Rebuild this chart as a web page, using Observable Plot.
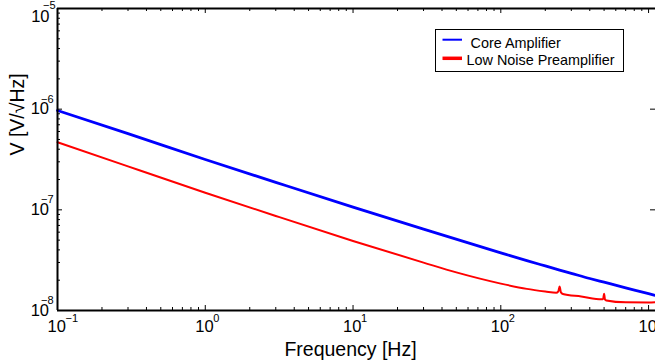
<!DOCTYPE html>
<html>
<head>
<meta charset="utf-8">
<script src="https://cdn.jsdelivr.net/npm/d3@7"></script>
<script src="https://cdn.jsdelivr.net/npm/@observablehq/plot@0.6"></script>
<style>
  html, body { margin: 0; padding: 0; background: #fff; overflow: hidden; }
  #wrap { position: relative; width: 655px; height: 362px; }
  #wrap svg { display: block; }
  #legend { position: absolute; left: 0; top: 0; }
</style>
</head>
<body>
<div id="wrap"></div>
<script>
// ---- data ----
const coreFreq = [0.1, 0.3, 1, 3, 10, 30, 100, 150, 200, 250, 300, 400, 500, 700, 1000, 1114];
const coreV    = [9.7e-7, 5.71e-7, 3.16e-7, 1.875e-7, 1.064e-7, 6.43e-8, 3.74e-8, 3.13e-8, 2.77e-8, 2.52e-8, 2.34e-8, 2.08e-8, 1.91e-8, 1.68e-8, 1.47e-8, 1.41e-8];

const lnpFreq = [0.1, 0.3, 1, 3, 10, 30, 50, 100, 150, 200, 237, 245, 250, 255, 263, 350, 482, 493, 500, 507, 518, 700, 1000, 1114];
const lnpV    = [4.7e-7, 2.70e-7, 1.48e-7, 8.69e-8, 4.91e-8, 2.99e-8, 2.39e-8, 1.85e-8, 1.64e-8, 1.545e-8, 1.50e-8, 1.55e-8, 1.73e-8, 1.52e-8, 1.46e-8, 1.38e-8, 1.29e-8, 1.31e-8, 1.47e-8, 1.29e-8, 1.26e-8, 1.205e-8, 1.20e-8, 1.21e-8];

const seriesNames  = ["Core Amplifier", "Low Noise Preamplifier"];
const seriesColors = ["#0000ff", "#ff0000"];

const xMajor = [0.1, 1, 10, 100, 1000];
const xExpLabels = ["\u22121", "0", "1", "2", "3"];
const yMajor = [1e-8, 1e-7, 1e-6, 1e-5];
const yExpLabels = ["\u22128", "\u22127", "\u22126", "\u22125"];

const xTitle = "Frequency [Hz]";
const yTitle = "V [V/\u221AHz]";

// ---- layout ----
const W = 655, H = 362;
const mT = 8, mB = 52, mL = 57, mR = 0;
const innerW = W - mL - mR, innerH = H - mT - mB;
const xDomain = [0.1, 1114];
const yDomain = [1e-8, 1e-5];
const font = "'Liberation Sans', Arial, Helvetica, sans-serif";

const core = coreFreq.map((f, i) => ({f, v: coreV[i]}));
const lnp  = lnpFreq.map((f, i) => ({f, v: lnpV[i]}));

const xMinor = xMajor.flatMap(m => d3.range(2, 10).map(k => m * k)).filter(v => v <= xDomain[1]);
const yMinor = yMajor.slice(0, -1).flatMap(m => d3.range(2, 10).map(k => m * k));

const yLow = yMajor.slice(0, -1), yTop = yMajor.slice(-1);
const yExpLow = yExpLabels.slice(0, -1), yExpTop = yExpLabels.slice(-1);

const tickStroke = "#000";
const chart = Plot.plot({
  width: W, height: H,
  marginTop: mT, marginBottom: mB, marginLeft: mL, marginRight: mR,
  style: {fontFamily: font, background: "white", overflow: "visible"},
  x: {type: "log", domain: xDomain, axis: null},
  y: {type: "log", domain: yDomain, axis: null},
  marks: [
    // data lines
    Plot.line(core, {x: "f", y: "v", stroke: seriesColors[0], strokeWidth: 2.8, curve: "monotone-x"}),
    Plot.line(lnp,  {x: "f", y: "v", stroke: seriesColors[1], strokeWidth: 2, curve: "monotone-x"}),
    // ticks (inward, MATLAB style)
    Plot.tickX(xMajor, {x: d => d, insetTop: innerH - 5, stroke: tickStroke, strokeWidth: 1}),
    Plot.tickX(xMinor, {x: d => d, insetTop: innerH - 3, stroke: tickStroke, strokeWidth: 1}),
    Plot.tickX(xMajor, {x: d => d, insetBottom: innerH - 5, stroke: tickStroke, strokeWidth: 1}),
    Plot.tickX(xMinor, {x: d => d, insetBottom: innerH - 3, stroke: tickStroke, strokeWidth: 1}),
    Plot.tickY(yMajor, {y: d => d, insetRight: innerW - 5, stroke: tickStroke, strokeWidth: 1}),
    Plot.tickY(yMinor, {y: d => d, insetRight: innerW - 3, stroke: tickStroke, strokeWidth: 1}),
    Plot.tickY(yMajor, {y: d => d, insetLeft: innerW - 5, stroke: tickStroke, strokeWidth: 1}),
    // axis frame
    Plot.ruleY([yDomain[0]], {stroke: "#000", strokeWidth: 2}),
    Plot.ruleY([yDomain[1]], {stroke: "#000", strokeWidth: 2}),
    Plot.ruleX([xDomain[0]], {stroke: "#000", strokeWidth: 2}),
    // x tick labels
    Plot.text(xMajor, {x: d => d, frameAnchor: "bottom", text: () => "10", textAnchor: "start",
      lineAnchor: "top", dx: -10, dy: 9.3, fontSize: 16.5, fill: "#000"}),
    Plot.text(xMajor, {x: d => d, frameAnchor: "bottom", text: (d, i) => xExpLabels[i], textAnchor: "start",
      lineAnchor: "bottom", dx: 8, dy: 11, fontSize: 11, fill: "#000"}),
    // y tick labels
    Plot.text(yLow, {y: d => d, frameAnchor: "left", text: () => "10", textAnchor: "end",
      lineAnchor: "middle", dx: -8.5, fontSize: 16.5, fill: "#000"}),
    Plot.text(yLow, {y: d => d, frameAnchor: "left", text: (d, i) => yExpLow[i], textAnchor: "end",
      lineAnchor: "bottom", dx: -4, dy: -6.5, fontSize: 11, fill: "#000"}),
    Plot.text(yTop, {y: d => d, frameAnchor: "left", text: () => "10", textAnchor: "end",
      lineAnchor: "middle", dx: -8, dy: 8, fontSize: 16.5, fill: "#000"}),
    Plot.text(yTop, {y: d => d, frameAnchor: "left", text: (d, i) => yExpTop[i], textAnchor: "end",
      lineAnchor: "bottom", dx: -2, dy: 0.5, fontSize: 11, fill: "#000"}),
    // axis titles
    Plot.text([xTitle], {frameAnchor: "bottom", text: d => d, lineAnchor: "bottom", dx: -6, dy: 45,
      fontSize: 19.5, fill: "#000"}),
    Plot.text([yTitle], {frameAnchor: "left", text: d => d, rotate: -90, lineAnchor: "middle", dx: -40, dy: -4,
      fontSize: 19.5, fill: "#000"})
  ]
});

const wrap = document.getElementById("wrap");
wrap.appendChild(chart);

// ---- legend (overlay, inside axes at upper right) ----
const lg = d3.select(wrap).append("svg").attr("id", "legend")
  .attr("width", W).attr("height", H).style("pointer-events", "none")
  .style("font-family", font);
lg.append("rect").attr("x", 435.5).attr("y", 29.5).attr("width", 188).attr("height", 42)
  .attr("fill", "white").attr("stroke", "black").attr("stroke-width", 1);
const rows = [
  {ly: 39.7, sw: 2, tx: 470.5, ty: 47.5},
  {ly: 58.3, sw: 3.5, tx: 466.5, ty: 65}
];
seriesNames.forEach((name, i) => {
  const r = rows[i];
  lg.append("line").attr("x1", 442.5).attr("x2", 462).attr("y1", r.ly).attr("y2", r.ly)
    .attr("stroke", seriesColors[i]).attr("stroke-width", r.sw);
  lg.append("text").attr("x", r.tx).attr("y", r.ty).attr("font-size", 14.4).attr("fill", "#000").text(name);
});
</script>
</body>
</html>
